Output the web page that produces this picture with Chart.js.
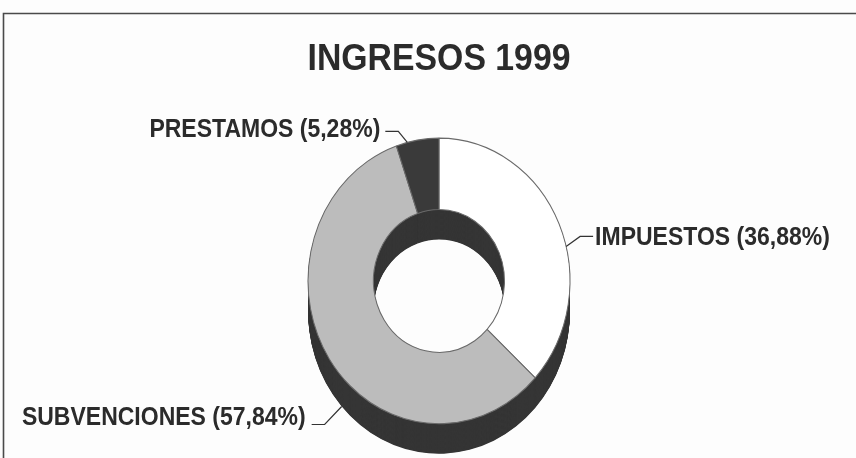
<!DOCTYPE html>
<html>
<head>
<meta charset="utf-8">
<script src="https://cdn.jsdelivr.net/npm/chart.js@4.4.0/dist/chart.umd.min.js"></script>
<style>
html, body { margin: 0; padding: 0; background: #fdfdfd; }
#wrap { width: 856px; height: 458px; }
</style>
</head>
<body>
<div id="wrap"><canvas id="c" width="856" height="458"></canvas></div>
<script>
// ---- data ----
const titleText = 'INGRESOS 1999';
const categories = ['IMPUESTOS', 'SUBVENCIONES', 'PRESTAMOS'];
const values = [36.88, 57.84, 5.28];

// ---- styles ----
const sliceColors = ['#ffffff', '#bcbcbc', '#3a3a3a'];
const sideColor = '#353535';
const textColor = '#2b2b2b';
const FACE_SY = 1.09;      // vertical stretch of the pie face
const DEPTH = 30;          // 3D depth in screen pixels
const TEXT_SY = 1.13;      // vertical stretch of label text
// label leader layout: angle on rim (deg from top, clockwise), elbow offset, text side
const labelLayout = [
  { angle: 76,  depth: false, elbow: [14, -10], side: 'right', dash: 13, gap: 2, textDy: 1.5 },
  { angle: 228, depth: true,  elbow: [-17, 18], side: 'left',  dash: 13, gap: 6, textDy: -7 },
  { angle: 346, depth: false, elbow: [-9, -11], side: 'left',  dash: 13, gap: 5, textDy: -2 }
];

function fmt(v) { return v.toFixed(2).replace('.', ',') + '%'; }

const frame = {
  id: 'frame',
  beforeDraw(chart) {
    const ctx = chart.ctx;
    ctx.save();
    ctx.strokeStyle = '#4a4a4a';
    ctx.lineWidth = 1.6;
    ctx.beginPath();
    ctx.moveTo(3.5, chart.height);
    ctx.lineTo(3.5, 13.5);
    ctx.lineTo(chart.width, 13.5);
    ctx.stroke();
    ctx.restore();
  }
};

const pie3d = {
  id: 'pie3d',
  beforeDatasetsDraw(chart) {
    const ctx = chart.ctx;
    const meta = chart.getDatasetMeta(0);
    const el0 = meta.data[0];
    const cx = el0.x, cy = el0.y;
    ctx.save();
    ctx.translate(cx, cy);
    ctx.scale(1, FACE_SY);
    ctx.translate(-cx, -cy);
    const depthU = DEPTH / FACE_SY;
    ctx.fillStyle = sideColor;
    for (let d = depthU; d >= 0.5; d -= 0.5) {
      meta.data.forEach(el => {
        const p = el.getProps(['x', 'y', 'startAngle', 'endAngle', 'innerRadius', 'outerRadius'], true);
        ctx.beginPath();
        ctx.arc(p.x, p.y + d, p.outerRadius, p.startAngle, p.endAngle);
        ctx.arc(p.x, p.y + d, p.innerRadius, p.endAngle, p.startAngle, true);
        ctx.closePath();
        ctx.fill();
      });
    }
  },
  afterDatasetsDraw(chart) {
    const ctx = chart.ctx;
    ctx.restore();
    const meta = chart.getDatasetMeta(0);
    ctx.save();
    ctx.strokeStyle = '#333333';
    ctx.lineWidth = 1.2;
    ctx.fillStyle = textColor;
    ctx.font = 'bold 23px "Liberation Sans", Arial, sans-serif';
    meta.data.forEach((el, i) => {
      const L = labelLayout[i];
      const p = el.getProps(['x', 'y', 'outerRadius'], true);
      const a = L.angle * Math.PI / 180;
      const ax = p.x + p.outerRadius * Math.sin(a);
      const ay = p.y - p.outerRadius * FACE_SY * Math.cos(a) + (L.depth ? DEPTH : 0);
      const ex = ax + L.elbow[0], ey = ay + L.elbow[1];
      const dir = L.side === 'right' ? 1 : -1;
      const hx = ex + dir * L.dash;
      ctx.beginPath();
      ctx.moveTo(ax, ay);
      ctx.lineTo(ex, ey);
      ctx.lineTo(hx, ey);
      ctx.stroke();
      const tx = hx + dir * L.gap;
      const ty = ey + L.textDy;
      ctx.save();
      ctx.translate(tx, ty);
      ctx.scale(1, TEXT_SY);
      ctx.textBaseline = 'middle';
      ctx.textAlign = dir > 0 ? 'left' : 'right';
      ctx.fillText(categories[i] + ' (' + fmt(values[i]) + ')', 0, 0);
      ctx.restore();
    });
    ctx.restore();
  }
};

new Chart(document.getElementById('c'), {
  type: 'doughnut',
  data: {
    labels: categories,
    datasets: [{
      data: values,
      backgroundColor: sliceColors,
      borderColor: '#6a6a6a',
      borderWidth: 1
    }]
  },
  options: {
    responsive: false,
    animation: false,
    cutout: '50%',
    rotation: 0,
    layout: { padding: { left: 307.5, right: 285.5, top: 0, bottom: 45.5 } },
    plugins: {
      legend: { display: false },
      tooltip: { enabled: false },
      title: {
        display: true,
        text: titleText,
        color: textColor,
        font: { family: '"Liberation Sans", Arial, sans-serif', size: 37, weight: 'bold' },
        padding: { top: 38, bottom: 67 }
      }
    }
  },
  plugins: [frame, pie3d]
});
</script>
</body>
</html>
